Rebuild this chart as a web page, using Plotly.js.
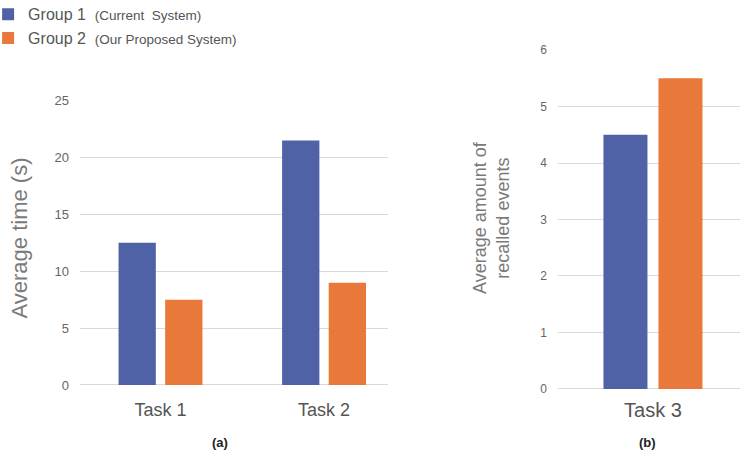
<!DOCTYPE html>
<html>
<head>
<meta charset="utf-8">
<script src="https://cdn.plot.ly/plotly-3.0.1.min.js"></script>
<style>html,body{margin:0;padding:0;background:#fff;}#chart{width:743px;height:458px;}</style>
</head>
<body>
<div id="chart"></div>
<script>
// Data
const timeTasks = ["Task 1", "Task 2"];
const group1Time = [12.5, 21.5];
const group2Time = [7.5, 9.0];
const recallTasks = ["Task 3"];
const group1Recall = [4.5];
const group2Recall = [5.5];
const groupNames = ["Group 1", "Group 2"];
const groupNotes = ["(Current  System)", "(Our Proposed System)"];
const yTimeTicks = [0, 5, 10, 15, 20, 25];
const yRecallTicks = [0, 1, 2, 3, 4, 5, 6];

const BLUE = "#4f62a6";
const ORANGE = "#e8793b";
const GRID = "#dcd8d4";
const TICK = "#666666";
const FONT = "Liberation Sans, Arial, sans-serif";

function legendName(i){
  return groupNames[i] + '  <span style="font-size:13.5px">' + groupNotes[i] + '</span>';
}

const traces = [
  {type:"bar", x:timeTasks, y:group1Time, name:legendName(0), marker:{color:BLUE}, xaxis:"x", yaxis:"y", legendgroup:"g1"},
  {type:"bar", x:timeTasks, y:group2Time, name:legendName(1), marker:{color:ORANGE}, xaxis:"x", yaxis:"y", legendgroup:"g2"},
  {type:"bar", x:recallTasks, y:group1Recall, name:legendName(0), marker:{color:BLUE}, xaxis:"x2", yaxis:"y2", showlegend:false, legendgroup:"g1"},
  {type:"bar", x:recallTasks, y:group2Recall, name:legendName(1), marker:{color:ORANGE}, xaxis:"x2", yaxis:"y2", showlegend:false, legendgroup:"g2"}
];

const yCommon = {
  showline:false, ticks:"", gridcolor:GRID, gridwidth:1, zeroline:true, zerolinecolor:GRID, zerolinewidth:1,
  tickfont:{family:FONT, size:13, color:TICK}, ticklabelstandoff:10, fixedrange:true, automargin:false
};
const xCommon = {
  type:"category", showline:false, ticks:"", showgrid:false, zeroline:false, automargin:false,
  tickfont:{family:FONT, size:18, color:"#555555"}, ticklabelstandoff:12, fixedrange:true
};

const layout = {
  width:743, height:458,
  margin:{l:0, r:0, t:0, b:0, autoexpand:false},
  paper_bgcolor:"#ffffff", plot_bgcolor:"#ffffff",
  barmode:"group", bargap:0.43, bargroupgap:0.2,
  font:{family:FONT, color:TICK},
  showlegend:true,
  legend:{x:-0.016, y:1.006, xanchor:"left", yanchor:"top", bgcolor:"rgba(0,0,0,0)",
          font:{family:FONT, size:16, color:"#555555"}, itemwidth:30, tracegroupgap:0, traceorder:"normal"},
  xaxis:Object.assign({}, xCommon, {domain:[0.1077, 0.5222], anchor:"y", range:[-0.492, 1.391]}),
  yaxis:Object.assign({}, yCommon, {domain:[0.1594, 0.7801], anchor:"x", range:[0, 25], tickvals:yTimeTicks}),
  xaxis2:Object.assign({}, xCommon, {domain:[0.751, 0.996], anchor:"y2", range:[-0.492, 0.451], ticklabelstandoff:7, tickfont:{family:FONT, size:20, color:"#555555"}}),
  yaxis2:Object.assign({}, yCommon, {domain:[0.1507, 0.8908], anchor:"x2", range:[0, 6], tickvals:yRecallTicks, tickfont:{family:FONT, size:12, color:TICK}}),
  annotations:[
    {text:"Average time (s)", textangle:-90, xref:"paper", yref:"paper", x:19/743, y:1-238.5/458, xanchor:"center", yanchor:"middle", showarrow:false, font:{family:FONT, size:22, color:"#7a7a7a"}},
    {text:"Average amount of<br>recalled events", textangle:-90, xref:"paper", yref:"paper", x:491/743, y:1-218/458, xanchor:"center", yanchor:"middle", showarrow:false, font:{family:FONT, size:18, color:"#7a7a7a"}},
    {text:"<b>(a)</b>", xref:"paper", yref:"paper", x:220/743, y:1-442/458, xanchor:"center", yanchor:"middle", showarrow:false, font:{family:FONT, size:13, color:"#222222"}},
    {text:"<b>(b)</b>", xref:"paper", yref:"paper", x:647/743, y:1-442/458, xanchor:"center", yanchor:"middle", showarrow:false, font:{family:FONT, size:13, color:"#222222"}}
  ]
};

Plotly.newPlot("chart", traces, layout, {displayModeBar:false, staticPlot:true});
</script>
</body>
</html>
